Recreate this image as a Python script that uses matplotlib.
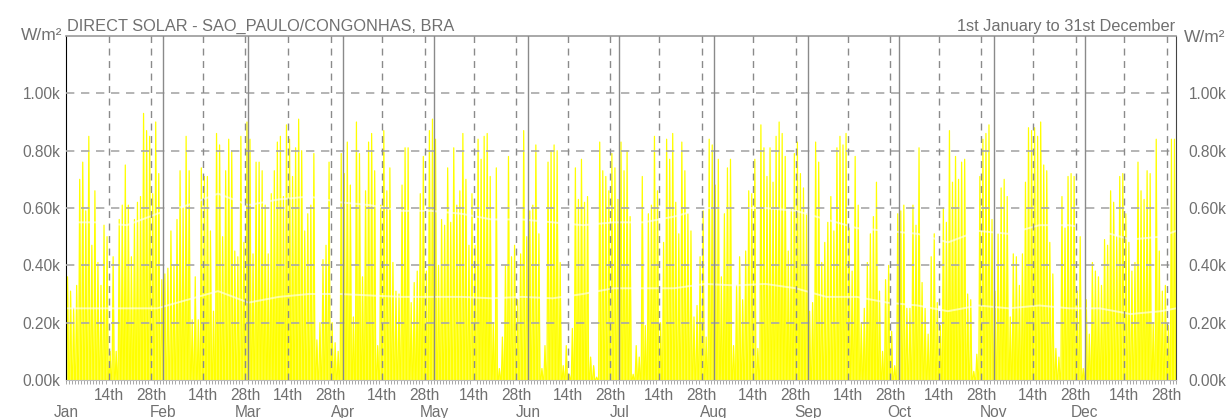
import numpy as np
import matplotlib
matplotlib.use("Agg")
import matplotlib.pyplot as plt

plt.rcParams['font.family'] = ['Liberation Sans', 'DejaVu Sans']

# daily peak of direct solar radiation, kW/m2
jan = [0.36, 0.31, 0.25, 0.33, 0.70, 0.76, 0.59, 0.85, 0.47, 0.66, 0.41, 0.33, 0.54, 0.50, 0.10, 0.43,
       0.10, 0.56, 0.61, 0.75, 0.61, 0.43, 0.56, 0.62, 0.64, 0.93, 0.87, 0.85, 0.65, 0.90, 0.72]
feb = [0.35, 0.37, 0.39, 0.52, 0.40, 0.56, 0.73, 0.60, 0.85, 0.73, 0.21, 0.36, 0.21, 0.74, 0.71, 0.71,
       0.52, 0.24, 0.86, 0.82, 0.50, 0.73, 0.84, 0.80, 0.45, 0.43, 0.85, 0.48]
mar = [0.90, 0.84, 0.44, 0.76, 0.76, 0.73, 0.61, 0.44, 0.65, 0.73, 0.83, 0.85, 0.64, 0.89, 0.84, 0.71,
       0.81, 0.91, 0.80, 0.52, 0.58, 0.61, 0.79, 0.14, 0.20, 0.42, 0.47, 0.76, 0.20, 0.13, 0.10]
apr = [0.79, 0.72, 0.83, 0.68, 0.22, 0.90, 0.79, 0.36, 0.66, 0.83, 0.86, 0.73, 0.12, 0.61, 0.87, 0.66,
       0.74, 0.41, 0.31, 0.30, 0.68, 0.81, 0.81, 0.27, 0.34, 0.38, 0.65, 0.78, 0.38, 0.87]
may = [0.91, 0.84, 0.40, 0.56, 0.54, 0.74, 0.55, 0.81, 0.61, 0.66, 0.86, 0.70, 0.47, 0.65, 0.47, 0.84,
       0.77, 0.85, 0.86, 0.71, 0.20, 0.74, 0.04, 0.15, 0.40, 0.78, 0.43, 0.47, 0.28, 0.44, 0.87]
jun = [0.50, 0.59, 0.61, 0.82, 0.51, 0.04, 0.12, 0.76, 0.80, 0.82, 0.80, 0.41, 0.05, 0.12, 0.02, 0.18,
       0.74, 0.63, 0.77, 0.62, 0.64, 0.08, 0.05, 0.01, 0.83, 0.73, 0.71, 0.66, 0.79, 0.74]
jul = [0.63, 0.83, 0.73, 0.80, 0.57, 0.02, 0.12, 0.08, 0.71, 0.19, 0.58, 0.61, 0.85, 0.66, 0.20, 0.48,
       0.84, 0.77, 0.86, 0.62, 0.51, 0.83, 0.73, 0.58, 0.52, 0.22, 0.26, 0.43, 0.59, 0.15, 0.84]
aug = [0.82, 0.68, 0.77, 0.36, 0.58, 0.74, 0.77, 0.12, 0.33, 0.43, 0.28, 0.45, 0.66, 0.65, 0.77, 0.11,
       0.89, 0.81, 0.71, 0.81, 0.69, 0.85, 0.90, 0.86, 0.78, 0.45, 0.60, 0.79, 0.83, 0.72, 0.67]
sep = [0.58, 0.24, 0.27, 0.83, 0.76, 0.41, 0.48, 0.55, 0.64, 0.52, 0.81, 0.85, 0.82, 0.86, 0.53, 0.38,
       0.78, 0.61, 0.20, 0.25, 0.41, 0.51, 0.57, 0.69, 0.31, 0.10, 0.35, 0.40, 0.17, 0.05]
oct_ = [0.58, 0.59, 0.61, 0.25, 0.25, 0.61, 0.54, 0.81, 0.34, 0.25, 0.16, 0.43, 0.51, 0.27, 0.19, 0.60,
        0.55, 0.87, 0.69, 0.78, 0.70, 0.76, 0.77, 0.30, 0.28, 0.03, 0.09, 0.71, 0.84, 0.86, 0.89]
nov = [0.56, 0.31, 0.51, 0.67, 0.70, 0.64, 0.22, 0.44, 0.43, 0.33, 0.44, 0.69, 0.88, 0.87, 0.88, 0.85,
       0.90, 0.75, 0.73, 0.48, 0.37, 0.11, 0.08, 0.64, 0.53, 0.71, 0.72, 0.71, 0.31, 0.50]
dec = [0.04, 0.28, 0.16, 0.41, 0.38, 0.36, 0.33, 0.49, 0.47, 0.66, 0.62, 0.50, 0.71, 0.72, 0.58, 0.48,
       0.38, 0.41, 0.76, 0.66, 0.63, 0.73, 0.72, 0.20, 0.84, 0.45, 0.31, 0.33, 0.19, 0.84, 0.84]

# smoothed averages (faint white lines), every 10 days
avg_days = [0, 10, 20, 30, 40, 50, 60, 70, 80, 90, 100, 110, 120, 130, 140, 150, 160, 170, 180,
            190, 200, 210, 220, 230, 240, 250, 260, 270, 280, 290, 300, 310, 320, 330, 340, 350, 360, 365]
avg_high = [0.55, 0.55, 0.54, 0.58, 0.61, 0.65, 0.61, 0.63, 0.64, 0.62, 0.61, 0.59, 0.59, 0.58, 0.56,
            0.56, 0.55, 0.54, 0.55, 0.55, 0.57, 0.60, 0.60, 0.60, 0.59, 0.56, 0.53, 0.52, 0.51, 0.48,
            0.52, 0.51, 0.54, 0.54, 0.52, 0.49, 0.50, 0.52]
avg_low = [0.25, 0.25, 0.25, 0.25, 0.28, 0.31, 0.27, 0.29, 0.30, 0.30, 0.295, 0.29, 0.29, 0.29, 0.285,
           0.29, 0.285, 0.30, 0.32, 0.32, 0.32, 0.335, 0.33, 0.335, 0.32, 0.29, 0.29, 0.27, 0.26, 0.24,
           0.26, 0.25, 0.26, 0.25, 0.25, 0.23, 0.24, 0.25]

months = ['Jan', 'Feb', 'Mar', 'Apr', 'May', 'Jun', 'Jul', 'Aug', 'Sep', 'Oct', 'Nov', 'Dec']
month_len = [31, 28, 31, 30, 31, 30, 31, 31, 30, 31, 30, 31]
yticks = [0.0, 0.2, 0.4, 0.6, 0.8, 1.0]

peaks = np.array(jan + feb + mar + apr + may + jun + jul + aug + sep + oct_ + nov + dec)
days = np.arange(len(peaks))
zero = np.zeros(len(peaks))
# each day: dark - noon peak - dark
x = np.column_stack([days + 0.15, days + 0.5, days + 0.85]).ravel()
y = np.column_stack([zero, peaks, zero]).ravel()

month_start = np.concatenate([[1], 1 + np.cumsum(month_len)[:-1]])

fig = plt.figure(figsize=(12.27, 4.18), dpi=100)
ax = fig.add_axes([66/1227, 38/418, 1110/1227, 344/418])

ax.fill_between(x, y, color='#ffff00', alpha=0.7, lw=0, zorder=1)
ax.plot(x, y, color='#ffff00', lw=0.9, zorder=2)
ax.plot(avg_days, avg_high, color='white', alpha=0.6, lw=1.4, zorder=2.5)
ax.plot(avg_days, avg_low, color='white', alpha=0.6, lw=1.4, zorder=2.5)

for v in yticks[1:]:
    ax.axhline(v, color='#a8a8a8', lw=1.2, ls=(0, (5, 4)), zorder=3)
for s in month_start:
    if s > 1:
        ax.axvline(s, color='#8a8a8a', lw=1.0, zorder=3)
    ax.axvline(s + 13, color='#8a8a8a', lw=1.0, ls=(0, (5, 4)), zorder=3)
    ax.axvline(s + 27, color='#8a8a8a', lw=1.0, ls=(0, (5, 4)), zorder=3)

ax.set_xlim(0, 365)
ax.set_ylim(0, 1.2)

txt = '#707070'
ax.set_yticks(yticks)
ax.set_yticklabels([f'{v:.2f}k' for v in yticks])
ax.tick_params(axis='y', length=0, pad=4, labelsize=11.2, labelcolor=txt)

pos = np.concatenate([month_start + 13, month_start + 27])
ax.set_xticks(pos)
ax.set_xticklabels(['14th'] * 12 + ['28th'] * 12)
ax.set_xticks(np.arange(0, 366), minor=True)
ax.tick_params(axis='x', which='major', length=0, pad=6, labelsize=11.2, labelcolor=txt)
ax.tick_params(axis='x', which='minor', length=3, width=0.6, color='#999999')

for i, m in enumerate(months):
    xm = 0 if i == 0 else month_start[i]
    ax.text(xm, -25/344, m, transform=ax.get_xaxis_transform(), ha='center', va='top',
            fontsize=11.2, color=txt, clip_on=False)

axr = ax.twinx()
axr.set_ylim(0, 1.2)
axr.set_yticks(yticks)
axr.set_yticklabels([f'{v:.2f}k' for v in yticks])
axr.tick_params(axis='y', length=0, pad=9, labelsize=11.2, labelcolor=txt)
for sp in axr.spines.values():
    sp.set_visible(False)

ax.spines['left'].set_color('black')
ax.spines['top'].set_color('#999999')
ax.spines['top'].set_linewidth(1.2)
ax.spines['right'].set_color('#444444')
ax.spines['bottom'].set_color('#bbbbbb')
ax.set_zorder(axr.get_zorder() + 1)
ax.patch.set_visible(False)

fig.text(67/1227, 1 - 31/418, 'DIRECT SOLAR - SAO_PAULO/CONGONHAS, BRA', fontsize=11.8, color=txt,
         ha='left', va='baseline')
fig.text(1175/1227, 1 - 31/418, '1st January to 31st December', fontsize=11.8, color=txt,
         ha='right', va='baseline')
fig.text(21/1227, 1 - 36/418, 'W/m²', fontsize=12.5, color=txt, ha='left', va='center')
fig.text(1184/1227, 1 - 37/418, 'W/m²', fontsize=12.5, color=txt, ha='left', va='center')

fig.savefig('out.png', dpi=100, facecolor='white')
